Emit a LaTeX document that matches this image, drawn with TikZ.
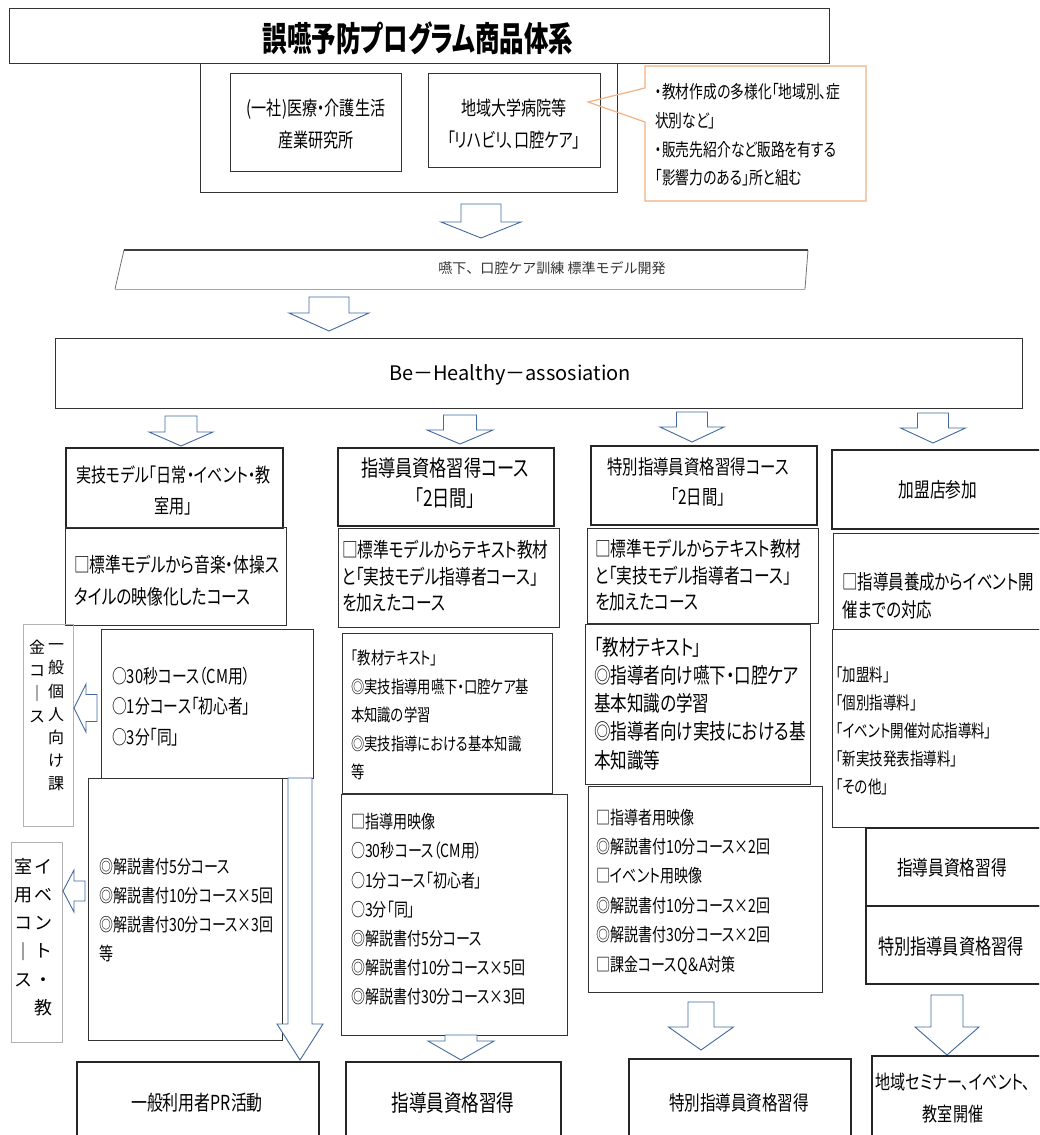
\documentclass[tikz,border=0pt]{standalone}
\usepackage{fontspec}
\setmainfont{Noto Sans CJK JP}[FakeStretch=0.77, RawFeature=+palt]
\newfontfamily\titlefont{Noto Sans CJK JP}[FakeStretch=0.72, RawFeature=+palt]
\newfontfamily\vfont{Noto Sans CJK JP}
\newcommand\fsz[2]{\fontsize{#1}{#2}\selectfont}
\definecolor{arrowblue}{RGB}{65,105,160}
\definecolor{calloutorange}{RGB}{244,177,131}
\tikzset{
  box/.style={draw=black!80, line width=1pt, inner sep=0pt},
  hdr/.style={draw=black!85, line width=2pt, inner sep=0pt},
  mid/.style={draw=black!85, line width=1.5pt, inner sep=0pt},
  sbox/.style={draw=black!30, line width=1pt, inner sep=0pt},
  arr/.style={draw=arrowblue, line width=0.9pt, fill=white, line join=miter},
  txt/.style={inner sep=0pt, text=black},
  ltxt/.style={txt, anchor=west, align=left},
  ctxt/.style={txt, anchor=center, align=center},
}
% box: name, x1, y1, x2, y2, style
\newcommand\bx[6]{\node[#6, anchor=north west, minimum width={(#4-#2)*1pt}, minimum height={(#5-#3)*1pt}] (#1) at (#2,#3) {};}
% down arrow: cx, shaft half, head half, top, head base, tip
\newcommand\dnarrow[6]{\draw[arr] ({#1-#2},#4) -- ({#1+#2},#4) -- ({#1+#2},#5) -- ({#1+#3},#5) -- (#1,#6) -- ({#1-#3},#5) -- ({#1-#2},#5) -- cycle;}
% left arrow: tip x, cy, head base x, right x, head half, shaft half
\newcommand\lfarrow[6]{\draw[arr] (#1,#2) -- (#3,{#2-#5}) -- (#3,{#2-#6}) -- (#4,{#2-#6}) -- (#4,{#2+#6}) -- (#3,{#2+#6}) -- (#3,{#2+#5}) -- cycle;}
\begin{document}
\begin{tikzpicture}[x=1pt,y=-1pt]
\useasboundingbox (0,0) rectangle (1039,1135);
\clip (0,0) rectangle (1039,1135);
\fill[white] (0,0) rectangle (1039,1135);

% ---------- top ----------
\bx{title}{9}{8}{829}{63}{box}
\node[ctxt, font=\titlefont\bfseries\fsz{34}{40}] (titletxt) at (418,38) {誤嚥予防プログラム商品体系};

\bx{org}{200}{63}{617}{192}{box}
\bx{org1}{230}{73}{401}{171}{box}
\bx{org2}{428}{73}{600}{167}{box}
\node[ctxt, font=\fsz{19.6}{32.5}] (org1txt) at (316,124) {(一社)医療・介護生活\\産業研究所};
\node[ctxt, font=\fsz{19.6}{32.5}] (org2txt) at (514,124) {地域大学病院等\\「リハビリ、口腔ケア」};

% callout
\coordinate (cotip) at (588,102);
\draw[draw=calloutorange, line width=1.2pt, line join=miter] (645,66) -- (866,66) -- (866,201) -- (645,201) -- (645,122) -- (cotip) -- (645,88) -- cycle;
\node[ltxt, font=\fsz{17.9}{28.7}] (cotxt) at (655,135) {・教材作成の多様化「地域別、症\\状別など」\\・販売先紹介など販路を有する\\「影響力のある」所と組む};

\dnarrow{481}{20}{40}{204}{222}{238}

% banner
\coordinate (bn1) at (124,250);
\coordinate (bn2) at (808,250);
\coordinate (bn3) at (805,289);
\coordinate (bn4) at (115,289);
\draw[black!55, line width=0.8pt] (bn1) -- (bn4);
\draw[black!55, line width=0.8pt] (bn2) -- (bn3);
\draw[black!35, line width=1pt] (bn4) -- (bn3);
\draw[black!75, line width=1.6pt] (bn1) -- (bn2);
\node[ctxt, font=\vfont\fsz{14}{16}, text=black!80] (bntxt) at (552,268) {嚥下、口腔ケア訓練 標準モデル開発};

\dnarrow{329}{20}{40}{297}{313}{331}

\bx{bh}{55}{338}{1022}{408}{box}
\node[ctxt, font=\vfont\fsz{20}{22}] (bhtxt) at (510,375) {Be－Healthy－assosiation};

\dnarrow{181}{16}{32}{416}{432}{446}
\dnarrow{460}{16.5}{33}{415}{430}{444}
\dnarrow{692}{15.5}{32}{412}{427}{442}
\dnarrow{933}{15.5}{32.5}{413}{428}{443}

% ---------- column 1 ----------
\bx{h1}{65}{447}{282}{527}{hdr}
\node[ctxt, font=\fsz{19.6}{31}] (h1txt) at (173.5,490.5) {実技モデル「日常・イベント・教\\室用」};
\bx{c1b2}{65}{527}{286}{625}{box}
\node[ltxt, font=\fsz{20.4}{32}] (c1b2txt) at (74,581) {□標準モデルから音楽・体操ス\\タイルの映像化したコース};
\bx{c1b3}{101}{629}{313}{778}{box}
\node[ltxt, font=\fsz{19.2}{30.5}] (c1b3txt) at (112,706.5) {○30秒コース（CM用）\\○1分コース「初心者」\\○3分「同」};
\bx{c1b4}{88}{778}{282}{1040}{box}
\node[ltxt, font=\fsz{18.2}{28.7}] (c1b4txt) at (99,910) {◎解説書付5分コース\\◎解説書付10分コース×5回\\◎解説書付30分コース×3回\\等};

\bx{s1}{23}{624}{73}{826}{sbox}
\node[ctxt, font=\vfont\fsz{16}{23.2}] (s1r) at (56,717.5) {一\\般\\個\\人\\向\\け\\課};
\node[ctxt, font=\vfont\fsz{16}{23.2}] (s1l) at (37,681.5) {金\\コ\\｜\\ス};
\lfarrow{74}{708}{86}{97}{24}{13.5}

\bx{s2}{11}{842}{62}{1042}{sbox}
\node[ctxt, font=\vfont\fsz{18}{28.2}] (s2r) at (43,937.5) {イ\\ベ\\ン\\ト\\・\\教};
\node[ctxt, font=\vfont\fsz{18}{28.2}] (s2l) at (23,922.5) {室\\用\\コ\\｜\\ス};
\lfarrow{63}{891}{74}{85}{21}{10}

\dnarrow{300}{12}{23}{778}{1024}{1060}
\bx{c1bot}{76}{1061}{318}{1145}{hdr}
\node[ctxt, font=\fsz{20.7}{24}] (c1bottxt) at (197,1103) {一般利用者PR活動};

% ---------- column 2 ----------
\bx{h2}{337}{447}{553}{525}{hdr}
\node[ctxt, font=\fsz{22.3}{30}] (h2txt) at (445,483) {指導員資格習得コース\\「2日間」};
\bx{c2b2}{338}{528}{559}{627}{box}
\node[ltxt, font=\fsz{20.4}{26.5}] (c2b2txt) at (342,576.5) {□標準モデルからテキスト教材\\と「実技モデル指導者コース」\\を加えたコース};
\bx{c2b3}{342}{633}{552}{793}{box}
\node[ltxt, font=\fsz{17.3}{28.5}] (c2b3txt) at (351,715) {「教材テキスト」\\◎実技指導用嚥下・口腔ケア基\\本知識の学習\\◎実技指導における基本知識\\等};
\bx{c2b4}{341}{794}{567}{1035}{box}
\node[ltxt, font=\fsz{18.2}{29.2}] (c2b4txt) at (351,909.5) {□指導用映像\\○30秒コース（CM用）\\○1分コース「初心者」\\○3分「同」\\◎解説書付5分コース\\◎解説書付10分コース×5回\\◎解説書付30分コース×3回};
\dnarrow{461}{16}{33}{1035}{1041}{1060}
\bx{c2bot}{345}{1061}{560}{1145}{hdr}
\node[ctxt, font=\fsz{22.8}{26}] (c2bottxt) at (453,1103) {指導員資格習得};

% ---------- column 3 ----------
\bx{h3}{590}{445}{816}{524}{hdr}
\node[ctxt, font=\fsz{20}{30}] (h3txt) at (698,482) {特別指導員資格習得コース\\「2日間」};
\bx{c3b2}{587}{528}{818}{623}{box}
\node[ltxt, font=\fsz{20.4}{26.5}] (c3b2txt) at (595,575.5) {□標準モデルからテキスト教材\\と「実技モデル指導者コース」\\を加えたコース};
\bx{c3b3}{585}{624}{810}{784}{box}
\node[ltxt, font=\fsz{21.5}{28.25}] (c3b3txt) at (594,703.5) {「教材テキスト」\\◎指導者向け嚥下・口腔ケア\\基本知識の学習\\◎指導者向け実技における基\\本知識等};
\bx{c3b4}{588}{786}{822}{992}{box}
\node[ltxt, font=\fsz{18.2}{29.4}] (c3b4txt) at (596,891.5) {□指導者用映像\\◎解説書付10分コース×2回\\□イベント用映像\\◎解説書付10分コース×2回\\◎解説書付30分コース×2回\\□課金コースQ＆A対策};
\dnarrow{701}{13}{32.5}{1002}{1027}{1050}
\bx{c3bot}{628}{1058}{850}{1145}{hdr}
\node[ctxt, font=\fsz{20.2}{24}] (c3bottxt) at (739,1103) {特別指導員資格習得};

% ---------- column 4 ----------
\bx{h4}{831}{449}{1045}{528}{hdr}
\node[ctxt, font=\fsz{20.4}{24}] (h4txt) at (938,490) {加盟店参加};
\bx{c4b2}{833}{533}{1045}{629}{box}
\node[ltxt, font=\fsz{20.1}{28}] (c4b2txt) at (842,596) {□指導員養成からイベント開\\催までの対応};
\bx{c4b3}{832}{629}{1045}{827}{box}
\node[ltxt, font=\fsz{17.5}{28}] (c4b3txt) at (836,731) {「加盟料」\\「個別指導料」\\「イベント開催対応指導料」\\「新実技発表指導料」\\「その他」};
\bx{c4b4}{865}{827}{1045}{905}{mid}
\node[ctxt, font=\fsz{20.4}{24}] (c4b4txt) at (952,868) {指導員資格習得};
\bx{c4b5}{865}{905}{1045}{983}{mid}
\node[ctxt, font=\fsz{21}{24}] (c4b5txt) at (951,947) {特別指導員資格習得};
\dnarrow{947}{16}{32}{995}{1027}{1055}
\bx{c4bot}{871}{1055}{1045}{1145}{hdr}
\node[ctxt, font=\fsz{19.6}{32}] (c4bottxt) at (953,1098) {地域セミナー、イベント、\\教室開催};
\end{tikzpicture}
\end{document}
